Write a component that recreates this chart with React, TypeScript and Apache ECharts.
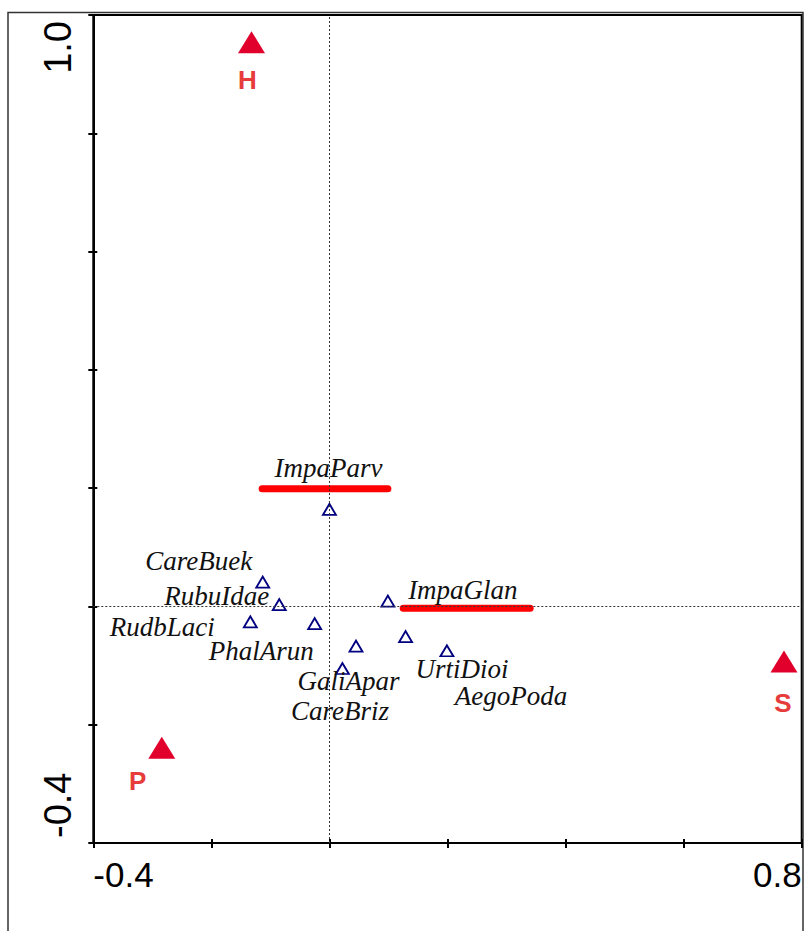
import React, { useEffect, useRef } from "react";
import * as echarts from "echarts";

// Species scores (hollow blue triangles)
const speciesNames = ["ImpaParv", "CareBuek", "RubuIdae", "ImpaGlan", "RudbLaci", "PhalArun", "CareBriz", "GaliApar", "UrtiDioi", "AegoPoda"];
const speciesX = [0.0, -0.113, -0.085, 0.099, -0.134, -0.025, 0.045, 0.022, 0.129, 0.199];
const speciesY = [0.164, 0.041, 0.003, 0.009, -0.026, -0.029, -0.067, -0.105, -0.051, -0.075];

// Environmental / nominal variables (filled red triangles)
const envNames = ["H", "P", "S"];
const envX = [-0.132, -0.284, 0.77];
const envY = [0.954, -0.239, -0.093];

// Red highlight underlines (data coordinates)
const highlightNames = ["ImpaParv", "ImpaGlan"];
const highlightX1 = [-0.114, 0.125];
const highlightX2 = [0.099, 0.34];
const highlightY = [0.199, -0.003];

// Axis ticks
const axisMinX = -0.4;
const axisMaxX = 0.8;
const axisMinY = -0.4;
const axisMaxY = 1.0;
const tickStep = 0.2;
const xLabelValues = [-0.4, 0.8];
const yLabelValues = [1.0, -0.4];

// Label placement (style, pixels from symbol centre)
const speciesLabelOffsets = [
  [-1, -41.5],
  [-64, -21],
  [-62.5, -8.5],
  [75, -11.5],
  [-88, 5],
  [-53.5, 27],
  [-16, 65],
  [6, 12],
  [56.5, 32],
  [64, 45],
];
const envLabelOffsets = [
  [-4, 37.5],
  [-24, 33],
  [-1, 42],
];

const near = (a: number, b: number) => Math.abs(a - b) < 1e-6;
const fmt = (v: number) => v.toFixed(1);

export default function App() {
  const ref = useRef<HTMLDivElement>(null);

  useEffect(() => {
    if (!ref.current) return;
    const chart = echarts.init(ref.current, null, { renderer: "svg" });

    const baseX = {
      type: "value",
      min: axisMinX,
      max: axisMaxX,
      interval: tickStep,
      position: "bottom",
      splitLine: { show: false },
    };
    const baseY = {
      type: "value",
      min: axisMinY,
      max: axisMaxY,
      interval: tickStep,
      position: "left",
      splitLine: { show: false },
    };
    const axisFont = { fontFamily: "'Liberation Sans', Arial, sans-serif", color: "#000" };

    const option: any = {
      animation: false,
      backgroundColor: "#fff",
      grid: {
        left: 93.3,
        top: 15,
        width: 708.4,
        height: 828,
        show: true,
        borderColor: "#000",
        borderWidth: 2,
        backgroundColor: "transparent",
      },
      xAxis: [
        {
          ...baseX,
          axisLine: { show: true, onZero: false, lineStyle: { color: "#000", width: 2 } },
          axisTick: { show: true, inside: true, length: 4, lineStyle: { color: "#000", width: 2 } },
          axisLabel: {
            ...axisFont,
            fontSize: 35,
            margin: 14,
            align: "left",
            showMinLabel: true,
            showMaxLabel: true,
            formatter: (v: number) => (near(v, xLabelValues[0]) ? fmt(xLabelValues[0]) : ""),
          },
        },
        {
          ...baseX,
          axisLine: { show: false, onZero: false },
          axisTick: { show: true, inside: false, length: 5, lineStyle: { color: "#000", width: 2 } },
          axisLabel: {
            ...axisFont,
            fontSize: 35,
            margin: 14,
            align: "right",
            showMinLabel: true,
            showMaxLabel: true,
            formatter: (v: number) => (near(v, xLabelValues[1]) ? fmt(xLabelValues[1]) : ""),
          },
        },
      ],
      yAxis: [
        {
          ...baseY,
          axisLine: { show: true, onZero: false, lineStyle: { color: "#000", width: 2 } },
          axisTick: { show: true, inside: true, length: 4, lineStyle: { color: "#000", width: 2 } },
          axisLabel: {
            ...axisFont,
            fontSize: 38,
            rotate: 90,
            margin: 35,
            align: "right",
            verticalAlign: "middle",
            padding: [0, 6, 0, 0],
            showMinLabel: true,
            showMaxLabel: true,
            formatter: (v: number) => (near(v, yLabelValues[0]) ? fmt(yLabelValues[0]) : ""),
          },
        },
        {
          ...baseY,
          axisLine: { show: false, onZero: false },
          axisTick: { show: true, inside: false, length: 5, lineStyle: { color: "#000", width: 2 } },
          axisLabel: {
            ...axisFont,
            fontSize: 38,
            rotate: 90,
            margin: 35,
            align: "left",
            verticalAlign: "middle",
            padding: [0, 0, 0, 5],
            showMinLabel: true,
            showMaxLabel: true,
            formatter: (v: number) => (near(v, yLabelValues[1]) ? fmt(yLabelValues[1]) : ""),
          },
        },
      ],
      graphic: [
        {
          type: "rect",
          shape: { x: 8, y: 12.5, width: 795, height: 1000 },
          style: { fill: "none", stroke: "#333", lineWidth: 1.5 },
          silent: true,
        },
      ],
      series: [
        ...highlightNames.map((n, i) => ({
          type: "line",
          name: n + " highlight",
          xAxisIndex: 0,
          yAxisIndex: 0,
          symbol: "none",
          silent: true,
          z: 1,
          lineStyle: { color: "#FF0000", width: 7, cap: "round", opacity: 1 },
          data: [
            [highlightX1[i], highlightY[i]],
            [highlightX2[i], highlightY[i]],
          ],
        })),
        {
          type: "scatter",
          name: "species",
          xAxisIndex: 0,
          yAxisIndex: 0,
          symbol: "triangle",
          symbolSize: [13, 11],
          z: 3,
          itemStyle: { color: "rgba(255,255,255,0)", borderColor: "#000080", borderWidth: 1.8, opacity: 1 },
          label: {
            show: true,
            position: "inside",
            formatter: (p: any) => p.name,
            fontFamily: "'Liberation Serif', 'Times New Roman', serif",
            fontStyle: "italic",
            fontSize: 27,
            lineHeight: 20,
            color: "#111",
            align: "center",
            verticalAlign: "middle",
          },
          markLine: {
            silent: true,
            symbol: ["none", "none"],
            label: { show: false },
            lineStyle: { type: [2, 2], color: "#333", width: 1 },
            data: [{ xAxis: 0 }, { yAxis: 0 }],
          },
          data: speciesNames.map((n, i) => ({
            name: n,
            value: [speciesX[i], speciesY[i]],
            label: { offset: speciesLabelOffsets[i] },
          })),
        },
        {
          type: "scatter",
          name: "variables",
          xAxisIndex: 0,
          yAxisIndex: 0,
          symbol: "triangle",
          symbolSize: [27, 22],
          z: 4,
          itemStyle: { color: "#E0002B", opacity: 1 },
          label: {
            show: true,
            position: "inside",
            formatter: (p: any) => p.name,
            fontFamily: "'Liberation Sans', Arial, sans-serif",
            fontWeight: "bold",
            fontSize: 26,
            color: "#E63C3C",
            align: "center",
            verticalAlign: "middle",
          },
          data: envNames.map((n, i) => ({
            name: n,
            value: [envX[i], envY[i]],
            label: { offset: envLabelOffsets[i] },
          })),
        },
      ],
    };

    chart.setOption(option);
    return () => chart.dispose();
  }, []);

  return (
    <div
      ref={ref}
      style={{ position: "absolute", left: 0, top: 0, width: 809, height: 931, background: "#fff" }}
    />
  );
}
